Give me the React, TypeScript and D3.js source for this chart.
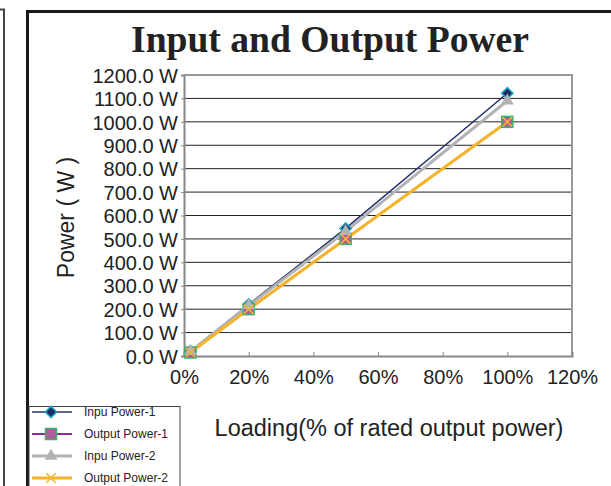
import React, { useEffect, useRef } from 'react';
import * as d3 from 'd3';

// loading in % of rated output power
const loading = [2, 20, 50, 100];

const inputPower1 = [20, 220, 545, 1122];
const outputPower1 = [15, 200, 500, 1000];
const inputPower2 = [20, 215, 532, 1090];
const outputPower2 = [15, 200, 500, 1000];

const xTicks = [0, 20, 40, 60, 80, 100, 120];
const yTicks = [0, 100, 200, 300, 400, 500, 600, 700, 800, 900, 1000, 1100, 1200];

const seriesNames = ['Inpu Power-1', 'Output Power-1', 'Inpu Power-2', 'Output Power-2'];

const W = 611;
const H = 486;

export default function App() {
  const ref = useRef<SVGSVGElement>(null);

  useEffect(() => {
    const svg = d3.select(ref.current);
    svg.selectAll('*').remove();

    const margin = { left: 184, right: 39, top: 75, bottom: 130 };
    const x = d3.scaleLinear().domain([0, 120]).range([margin.left, W - margin.right]);
    const y = d3.scaleLinear().domain([0, 1200]).range([H - margin.bottom, margin.top]);

    // frames
    svg.append('path').attr('d', 'M0,9.5H4V486').attr('fill', 'none')
      .attr('stroke', '#444').attr('stroke-width', 2);
    svg.append('path').attr('d', 'M27.5,486V11.5H611').attr('fill', 'none')
      .attr('stroke', '#1a1a1a').attr('stroke-width', 3);

    svg.append('text')
      .attr('x', 330).attr('y', 52)
      .attr('text-anchor', 'middle')
      .attr('font-family', '"Liberation Serif", "Times New Roman", serif')
      .attr('font-weight', 'bold').attr('font-size', 37).attr('fill', '#222')
      .attr('textLength', 398).attr('lengthAdjust', 'spacingAndGlyphs')
      .text('Input and Output Power');

    // gridlines
    svg.append('g').selectAll('line')
      .data(yTicks.slice(1, -1))
      .join('line')
      .attr('x1', x(0)).attr('x2', x(120))
      .attr('y1', d => y(d)).attr('y2', d => y(d))
      .attr('stroke', '#222').attr('stroke-width', 1);

    // plot frame
    svg.append('path')
      .attr('d', `M${x(0)},${y(1200)}H${x(120)}V${y(0)}`)
      .attr('fill', 'none').attr('stroke', '#999').attr('stroke-width', 2);

    const yAxis = svg.append('g')
      .attr('transform', `translate(${x(0)},0)`)
      .call(d3.axisLeft(y).tickValues(yTicks).tickSize(3).tickPadding(3)
        .tickFormat(d => `${(+d).toFixed(1)} W`));
    yAxis.select('.domain').attr('stroke', '#888').attr('stroke-width', 2);
    yAxis.selectAll('.tick line').attr('stroke', '#888');
    yAxis.selectAll('text')
      .attr('font-family', '"Liberation Sans", Arial, sans-serif')
      .attr('font-size', 20).attr('fill', '#222').attr('dy', '0.36em');

    const xAxis = svg.append('g')
      .attr('transform', `translate(0,${y(0)})`)
      .call(d3.axisBottom(x).tickValues(xTicks).tickSize(-4).tickPadding(14)
        .tickFormat(d => `${d}%`));
    xAxis.select('.domain').attr('stroke', '#888').attr('stroke-width', 2);
    xAxis.selectAll('.tick line').attr('stroke', '#888');
    xAxis.selectAll('text')
      .attr('font-family', '"Liberation Sans", Arial, sans-serif')
      .attr('font-size', 20).attr('fill', '#222');

    svg.append('text')
      .attr('transform', `translate(74,${y(600) + 2}) rotate(-90)`)
      .attr('text-anchor', 'middle')
      .attr('font-family', '"Liberation Sans", Arial, sans-serif')
      .attr('font-size', 23).attr('fill', '#222')
      .text('Power ( W )');

    svg.append('text')
      .attr('x', 389).attr('y', 436)
      .attr('text-anchor', 'middle')
      .attr('font-family', '"Liberation Sans", Arial, sans-serif')
      .attr('font-size', 23.5).attr('fill', '#222')
      .text('Loading(% of rated output power)');

    const series = [
      { values: inputPower1, color: '#24306e', width: 1.5, marker: 'diamond' },
      { values: outputPower1, color: '#8e2a8e', width: 2, marker: 'square' },
      { values: inputPower2, color: '#b3b3b3', width: 3, marker: 'triangle' },
      { values: outputPower2, color: '#f8b428', width: 3, marker: 'cross' },
    ];

    const drawMarker = (g: any, kind: string, cx: number, cy: number, color: string) => {
      if (kind === 'diamond') {
        g.append('rect')
          .attr('x', -4).attr('y', -4).attr('width', 8).attr('height', 8)
          .attr('transform', `translate(${cx},${cy}) rotate(45)`)
          .attr('fill', '#1d2b66').attr('stroke', '#18a6c4').attr('stroke-width', 1.5);
      } else if (kind === 'square') {
        g.append('rect')
          .attr('x', cx - 5.5).attr('y', cy - 5.5).attr('width', 11).attr('height', 11)
          .attr('fill', '#b05c9c').attr('stroke', '#40b070').attr('stroke-width', 1.5);
      } else if (kind === 'triangle') {
        g.append('path')
          .attr('d', d3.symbol(d3.symbolTriangle, 70)())
          .attr('transform', `translate(${cx},${cy})`)
          .attr('fill', '#b3b3b3');
      } else {
        g.append('path')
          .attr('d', d3.symbol(d3.symbolX, 60)())
          .attr('transform', `translate(${cx},${cy})`)
          .attr('fill', 'none').attr('stroke', color).attr('stroke-width', 1.5);
      }
    };

    const line = d3.line<number>().x((_, i) => x(loading[i])).y(d => y(d));
    series.forEach(s => {
      svg.append('path').datum(s.values)
        .attr('d', line).attr('fill', 'none')
        .attr('stroke', s.color).attr('stroke-width', s.width);
    });
    series.forEach(s => {
      const g = svg.append('g');
      s.values.forEach((v, i) => drawMarker(g, s.marker, x(loading[i]), y(v), s.color));
    });

    // legend
    const lg = svg.append('g');
    lg.append('rect').attr('x', 29).attr('y', 406.5).attr('width', 151).attr('height', 90)
      .attr('fill', '#fff').attr('stroke', '#444').attr('stroke-width', 1);
    series.forEach((s, i) => {
      const ly = 412 + i * 22;
      lg.append('line').attr('x1', 32).attr('x2', 72).attr('y1', ly).attr('y2', ly)
        .attr('stroke', s.color).attr('stroke-width', s.width);
      drawMarker(lg, s.marker, 51, ly, s.color);
      lg.append('text').attr('x', 84).attr('y', ly + 4)
        .attr('font-family', '"Liberation Sans", Arial, sans-serif')
        .attr('font-size', 12).attr('fill', '#222')
        .text(seriesNames[i]);
    });
  }, []);

  return (
    <svg ref={ref} width={W} height={H}
      style={{ position: 'fixed', left: 0, top: 0, background: '#fff' }} />
  );
}
